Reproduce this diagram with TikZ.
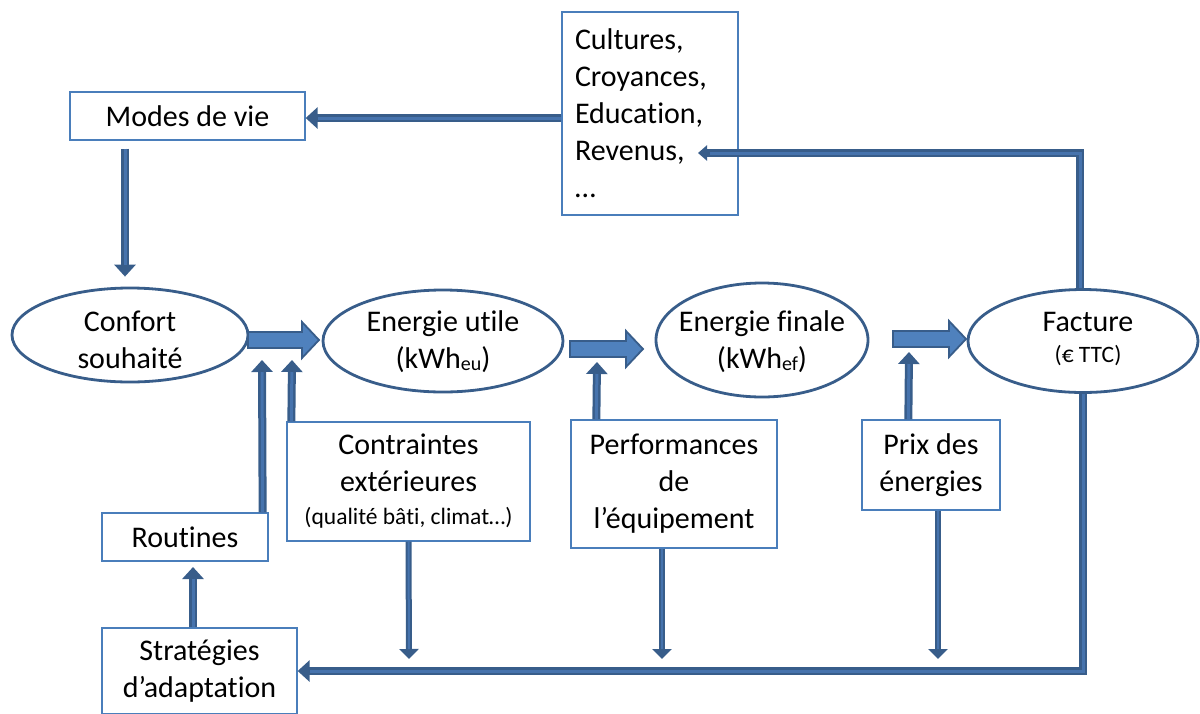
\documentclass[tikz,border=0pt]{standalone}
\usepackage{fontspec}
\setmainfont{Carlito}[Ligatures=NoCommon]
\usetikzlibrary{arrows.meta,shapes.geometric,calc}
\definecolor{edgeblue}{HTML}{385D8A}
\definecolor{fillblue}{HTML}{4F81BD}
\definecolor{innerblue}{HTML}{4673AD}
\definecolor{boxblue}{HTML}{4A7EBB}
\newcommand\bigtxt{\fontsize{30}{37}\selectfont}
\newcommand\smalltxt{\fontsize{23.5}{30}\selectfont}
\newcommand\subtxt[1]{\raisebox{-1.5pt}{\fontsize{20}{20}\selectfont #1}}
\newcommand\blockarrow[2]{%
  \draw[blk] let \p1=(#1), \p2=(#2) in
    (\x1,\y1+8pt) -- (\x2-17pt,\y1+8pt) -- (\x2-17pt,\y1+18pt) -- (\x2,\y1)
    -- (\x2-17pt,\y1-18pt) -- (\x2-17pt,\y1-8pt) -- (\x1,\y1-8pt) -- cycle;}
\begin{document}
\begin{tikzpicture}[x=1pt,y=-1pt,
  box/.style={draw=boxblue, line width=1.3pt, fill=white, inner sep=0pt, align=center, font=\bigtxt},
  ell/.style={ellipse, draw=edgeblue, line width=2.8pt, fill=white, inner sep=0pt},
  etxt/.style={font=\bigtxt, align=center, inner sep=0pt},
  flow/.style={draw=edgeblue, line width=8pt, -{Triangle[length=12pt,width=21pt]},
    postaction={draw=innerblue, line width=3pt, -, shorten >=12pt}},
  thinflow/.style={draw=edgeblue, line width=6pt, -{Triangle[length=10pt,width=19pt]},
    postaction={draw=innerblue, line width=2pt, -, shorten >=10pt}},
  blk/.style={fill=fillblue, draw=edgeblue, line width=1.8pt, line join=miter}]
\useasboundingbox (0,0) rectangle (1200,713);

% boxes
\node[box, minimum width=235pt, minimum height=48pt] (modes) at (187.5,116) {Modes de vie};
\node[box, minimum width=176pt, minimum height=203pt, text width=150pt, align=left] (cult) at (650,113.5)
  {Cultures,\\Croyances,\\Education,\\Revenus,\\…};
\node[box, minimum width=243pt, minimum height=119pt] (contr) at (408.5,481.5)
  {Contraintes\\extérieures\\[-4pt]{\smalltxt (qualité bâti, climat…)}};
\node[box, minimum width=206pt, minimum height=128pt] (perf) at (674,484)
  {Performances\\de\\l’équipement};
\node[box, minimum width=138pt, minimum height=90pt] (prix) at (931,465) {Prix des\\énergies};
\node[box, minimum width=166pt, minimum height=48pt] (rout) at (185,537) {Routines};
\node[box, minimum width=195pt, minimum height=86pt] (strat) at (199.5,671) {Stratégies\\d’adaptation};

% ellipses
\node[ell, minimum width=236pt, minimum height=94pt] (conf) at (130,335) {};
\node[etxt] (conftxt) at (130,340) {Confort\\souhaité};
\node[ell, minimum width=240pt, minimum height=102pt] (util) at (443,341) {};
\node[etxt] (utiltxt) at (443,342) {Energie utile\\(kWh\subtxt{eu})};
\node[ell, minimum width=212pt, minimum height=114pt] (fin) at (762,340) {};
\node[etxt] (fintxt) at (762,342) {Energie finale\\(kWh\subtxt{ef})};
\node[ell, minimum width=230pt, minimum height=103pt] (fact) at (1083,341) {};
\node[etxt] (facttxt) at (1088,339) {Facture\\[-6pt]{\smalltxt (€ TTC)}};

% block arrows between ellipses
\coordinate (b1a) at (248,340); \coordinate (b1b) at (319,340);
\coordinate (b2a) at (570,349); \coordinate (b2b) at (643,349);
\coordinate (b3a) at (893,339); \coordinate (b3b) at (966,339);
\blockarrow{b1a}{b1b}
\blockarrow{b2a}{b2b}
\blockarrow{b3a}{b3b}

% end points
\coordinate (rev) at (698,153);
\coordinate (t1) at (262,360);
\coordinate (t2) at (292,360);
\coordinate (t3) at (597,362);
\coordinate (t4) at (909,352);
\coordinate (d1) at (409,659);
\coordinate (d2) at (662,659);
\coordinate (d3) at (938,659);
\coordinate (s1) at (193,567);

% connectors
\draw[flow] ($(modes.south)+(-62.5,8)$) -- ($(conf.north)+(-5,-10)$);
\draw[flow] ($(cult.west)+(0,4.5)$) -- ($(modes.east)+(0,2)$);
\draw[flow, -{Triangle[length=9pt,width=15pt]}] ($(fact.north)+(-3,0)$) |- (rev);
\draw[flow] (fact.south) |- (strat.east);
\draw[flow] ($(rout.north east)+(-6,0)$) -- (t1);
\draw[flow] ($(contr.north west)+(5,0)$) -- (t2);
\draw[flow] ($(perf.north west)+(26,0)$) -- (t3);
\draw[flow] ($(prix.north west)+(47,0)$) -- (t4);
\draw[thinflow] (contr.south) -- (d1);
\draw[thinflow] ($(perf.south)+(-12,0)$) -- (d2);
\draw[thinflow] ($(prix.south)+(7,0)$) -- (d3);
\draw[flow] ($(strat.north)+(-6.5,0)$) -- (s1);
\end{tikzpicture}
\end{document}
